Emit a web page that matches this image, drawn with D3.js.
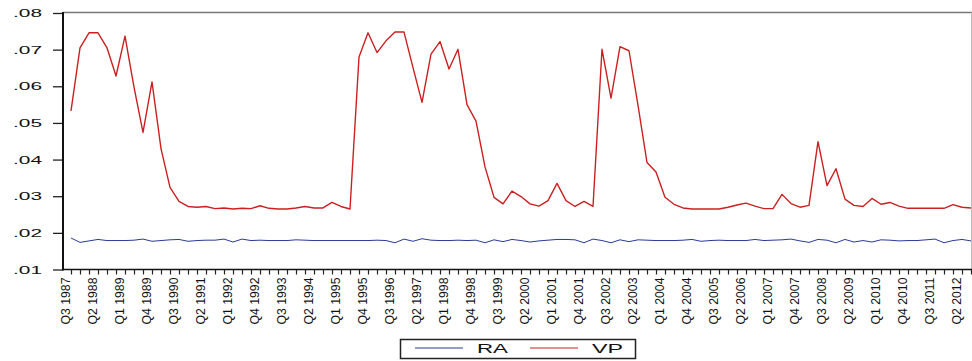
<!DOCTYPE html>
<html>
<head>
<meta charset="utf-8">
<script src="https://cdnjs.cloudflare.com/ajax/libs/d3/7.8.5/d3.min.js"></script>
<style>
  body { margin: 0; background: #fff; }
  svg { display: block; }
</style>
</head>
<body>
<svg width="972" height="361"></svg>
<script>
// quarters Q3 1987 .. Q3 2012
var quarters = [];
for (var yr = 1987, q = 3; yr < 2012 || (yr == 2012 && q <= 3); ) {
    quarters.push("Q" + q + " " + yr);
    q++;
    if (q > 4) { q = 1; yr++; }
}

// labelled every third quarter
var tickLabels = ["Q3 1987","Q2 1988","Q1 1989","Q4 1989","Q3 1990","Q2 1991","Q1 1992","Q4 1992",
    "Q3 1993","Q2 1994","Q1 1995","Q4 1995","Q3 1996","Q2 1997","Q1 1998","Q4 1998","Q3 1999",
    "Q2 2000","Q1 2001","Q4 2001","Q3 2002","Q2 2003","Q1 2004","Q4 2004","Q3 2005","Q2 2006",
    "Q1 2007","Q4 2007","Q3 2008","Q2 2009","Q1 2010","Q4 2010","Q3 2011","Q2 2012"];

var yTicks = [0.01, 0.02, 0.03, 0.04, 0.05, 0.06, 0.07, 0.08];

var VP = [.0533,.0705,.0746,.0746,.0705,.0628,.0737,.0598,.0474,.0612,
          .0430,.0324,.0286,.0272,.0270,.0272,.0266,.0268,.0265,.0267,
          .0266,.0274,.0267,.0265,.0265,.0268,.0272,.0268,.0268,.0283,
          .0272,.0265,.0680,.0746,.0692,.0724,.0748,.0748,.0651,.0556,
          .0688,.0722,.0647,.0701,.0550,.0505,.0380,.0297,.0279,.0314,
          .0299,.0279,.0273,.0288,.0335,.0288,.0272,.0286,.0272,.0701,
          .0568,.0708,.0697,.0548,.0392,.0366,.0297,.0278,.0268,.0265,
          .0265,.0265,.0265,.0270,.0276,.0281,.0273,.0266,.0266,.0305,
          .0280,.0270,.0275,.0449,.0329,.0375,.0292,.0275,.0272,.0294,
          .0278,.0283,.0273,.0267,.0267,.0267,.0267,.0267,.0277,.0270,
          .0268];

var RA = [.0186,.0174,.0178,.0182,.0179,.0179,.0179,.0180,.0183,.0177,
          .0179,.0181,.0182,.0177,.0179,.0180,.0180,.0183,.0175,.0183,
          .0179,.0180,.0179,.0179,.0179,.0181,.0180,.0179,.0179,.0179,
          .0179,.0179,.0179,.0179,.0180,.0179,.0173,.0183,.0177,.0184,
          .0180,.0179,.0179,.0180,.0179,.0180,.0173,.0181,.0176,.0182,
          .0179,.0175,.0178,.0180,.0182,.0182,.0181,.0173,.0183,.0179,
          .0173,.0181,.0176,.0181,.0180,.0179,.0179,.0179,.0180,.0182,
          .0177,.0179,.0180,.0179,.0179,.0179,.0182,.0179,.0180,.0181,
          .0183,.0178,.0174,.0182,.0180,.0173,.0182,.0175,.0179,.0175,
          .0181,.0180,.0178,.0179,.0179,.0181,.0183,.0173,.0179,.0182,
          .0178];

var svg = d3.select("svg"),
    plotLeft = 63, plotTop = 13, plotBottom = 269.5, plotRight = 971.5;

// ranges
var x = d3.scaleLinear().domain([0, quarters.length - 1]).range([71, 971]);
var y = d3.scaleLinear().domain([0.01, 0.08]).range([plotBottom, plotTop]);

var font = "'Liberation Sans', Arial, sans-serif";

// frame (top and right in grey)
svg.append("line")
    .attr("x1", plotLeft).attr("x2", 972)
    .attr("y1", 12.5).attr("y2", 12.5)
    .attr("stroke", "#777").attr("stroke-width", 1.5);
svg.append("line")
    .attr("x1", plotRight).attr("x2", plotRight)
    .attr("y1", 12.5).attr("y2", plotBottom)
    .attr("stroke", "#bbb").attr("stroke-width", 1);

// y axis
var yAxis = svg.append("g")
    .attr("transform", "translate(" + plotLeft + ",0)")
    .call(d3.axisLeft(y).tickValues(yTicks).tickSize(10).tickFormat(function(d) {
        return d3.format(".2f")(d).replace(/^0/, "");
    }));
yAxis.select(".domain").remove();
yAxis.selectAll(".tick line").attr("stroke", "#222").attr("stroke-width", 1.3);
yAxis.selectAll(".tick text")
    .attr("x", -21)
    .attr("font-family", font)
    .attr("font-size", 11.5)
    .attr("fill", "#111")
    .attr("textLength", 29)
    .attr("lengthAdjust", "spacingAndGlyphs");

svg.append("line")
    .attr("x1", plotLeft).attr("x2", plotLeft)
    .attr("y1", 12).attr("y2", plotBottom + 1)
    .attr("stroke", "#111").attr("stroke-width", 2);

// x axis: tick every quarter, label every third
var xAxis = svg.append("g")
    .attr("transform", "translate(0," + plotBottom + ")")
    .call(d3.axisBottom(x).tickValues(d3.range(quarters.length)).tickSize(5).tickFormat(function(i) {
        return tickLabels.indexOf(quarters[i]) >= 0 ? quarters[i] : "";
    }));
xAxis.select(".domain").remove();
xAxis.selectAll(".tick line").attr("stroke", "#222").attr("stroke-width", 1.2);
xAxis.selectAll(".tick text")
    .attr("font-family", font)
    .attr("font-size", 12)
    .attr("fill", "#111")
    .attr("text-anchor", "end")
    .attr("x", -8)
    .attr("y", 0)
    .attr("dy", "1.5")
    .attr("transform", "translate(-2.7,0) rotate(-90)");
xAxis.selectAll(".tick text").filter(function() { return this.textContent != ""; })
    .attr("textLength", 47)
    .attr("lengthAdjust", "spacingAndGlyphs");

svg.append("line")
    .attr("x1", plotLeft).attr("x2", 972)
    .attr("y1", plotBottom).attr("y2", plotBottom)
    .attr("stroke", "#111").attr("stroke-width", 1.6);

// lines
var line = d3.line()
    .x(function(d, i) { return x(i); })
    .y(function(d) { return y(d); });

svg.append("path")
    .datum(RA)
    .attr("fill", "none")
    .attr("stroke", "#2b3a96")
    .attr("stroke-width", 1)
    .attr("d", line);

svg.append("path")
    .datum(VP)
    .attr("fill", "none")
    .attr("stroke", "#cc2020")
    .attr("stroke-width", 1.4)
    .attr("stroke-linejoin", "round")
    .attr("d", line);

// legend
var legend = svg.append("g");
legend.append("rect")
    .attr("x", 400.5).attr("y", 339.5)
    .attr("width", 235).attr("height", 19)
    .attr("fill", "#fff").attr("stroke", "#222").attr("stroke-width", 1.5);

var items = [{name: "RA", color: "#2b3a96", x: 415}, {name: "VP", color: "#cc2020", x: 530}];
items.forEach(function(d) {
    legend.append("line")
        .attr("x1", d.x).attr("x2", d.x + 48)
        .attr("y1", 348).attr("y2", 348)
        .attr("stroke", d.color).attr("stroke-width", 1.2);
    legend.append("text")
        .attr("x", d.x + 62).attr("y", 353)
        .attr("font-family", font)
        .attr("font-size", 13)
        .attr("fill", "#111")
        .attr("textLength", 31)
        .attr("lengthAdjust", "spacingAndGlyphs")
        .text(d.name);
});
</script>
</body>
</html>
